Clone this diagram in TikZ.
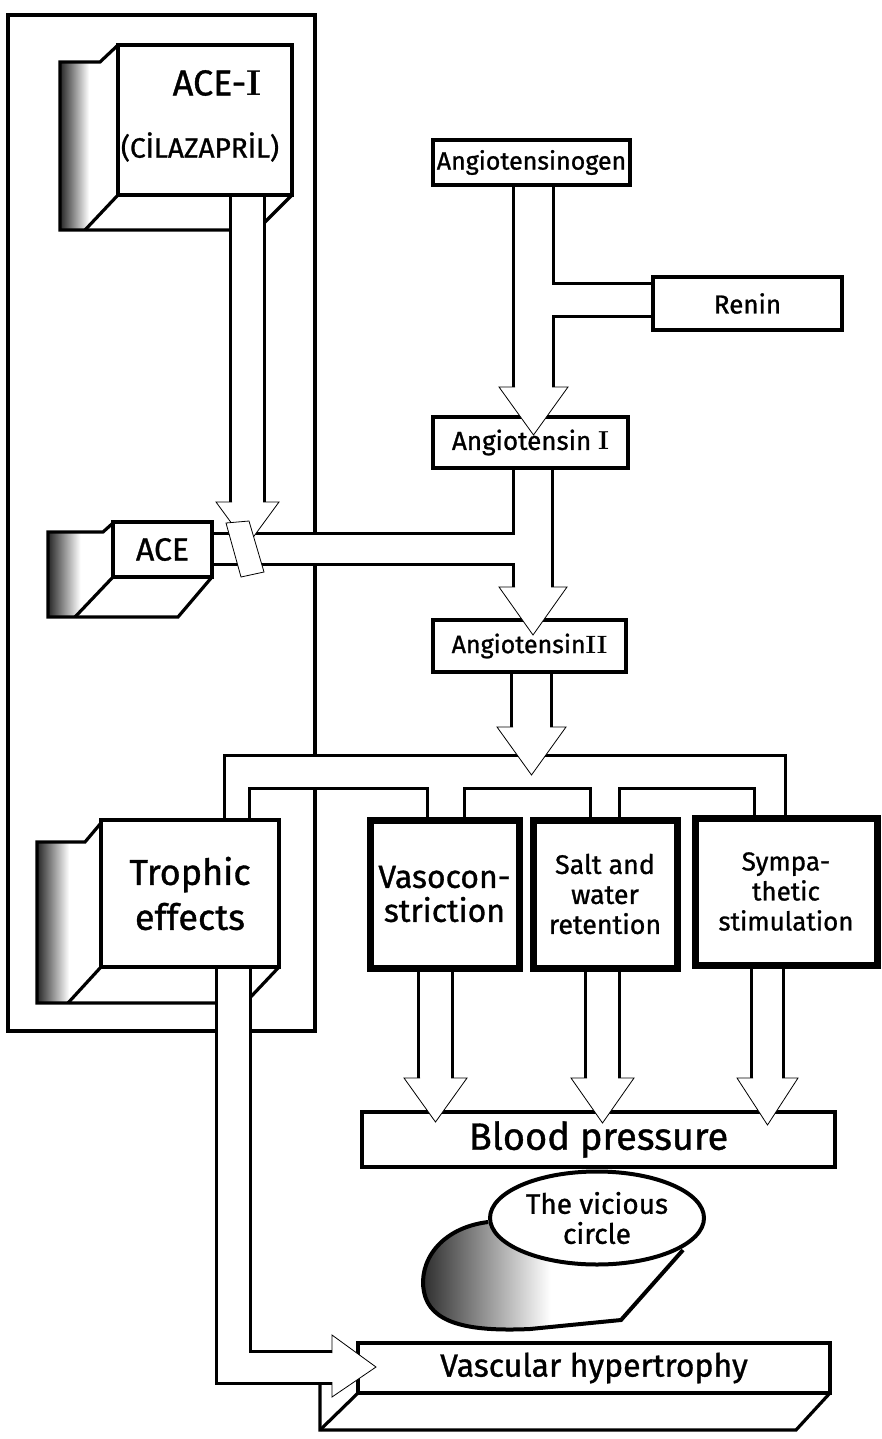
\documentclass[tikz,border=0pt]{standalone}
\usepackage{fontspec}
\setsansfont{Fira Sans}[FakeBold=1]
\usetikzlibrary{shapes.geometric,backgrounds}

\begin{document}
\begin{tikzpicture}[x=0.5pt,y=-0.5pt,line width=1.6pt,
  box/.style={draw,fill=white,inner sep=0pt,font=\sffamily,align=center},
  heavybox/.style={box,line width=3.5pt},
  shadeside/.style={left color=black!85,right color=white,middle color=white}]
  \useasboundingbox (0,0) rectangle (882,1439);

  % boxes
  \node[box,minimum width=87pt,minimum height=75pt] (acei) at (205,120) {};
  \node[font=\sffamily\fontsize{18}{20}\selectfont] (aceiname) at (217,83) {ACE-{\rmfamily\bfseries I}};
  \node[font=\sffamily\fontsize{14}{16}\selectfont] (aceidrug) at (200,147) {(CİLAZAPRİL)};
  \node[box,minimum width=49.5pt,minimum height=27.5pt,font=\sffamily\fontsize{16}{18}\selectfont] (ace) at (162.5,549.5) {ACE};
  \node[box,minimum width=98.5pt,minimum height=22.5pt,font=\sffamily\fontsize{12.5}{15}\selectfont] (ang0) at (531.5,162.5) {Angiotensinogen};
  \node[box,minimum width=94.5pt,minimum height=26.5pt,font=\sffamily\fontsize{13}{15}\selectfont] (renin) at (747.5,303.5) {Renin};
  \node[box,minimum width=97.5pt,minimum height=25.5pt,font=\sffamily\fontsize{13}{15}\selectfont] (ang1) at (530.5,442.5) {Angiotensin {\rmfamily\bfseries I}};
  \node[box,minimum width=96.5pt,minimum height=26pt,font=\sffamily\fontsize{12.5}{15}\selectfont] (ang2) at (529.5,646) {Angiotensin{\rmfamily\bfseries II}};
  \node[box,minimum width=89pt,minimum height=73.5pt,font=\sffamily\fontsize{18}{22.5}\selectfont] (troph) at (190,893.5) {Trophic\\effects};
  \node[heavybox,minimum width=74.5pt,minimum height=74pt,font=\sffamily\fontsize{16}{17}\selectfont] (vaso) at (444.5,894) {Vasocon-\\striction};
  \node[heavybox,minimum width=72pt,minimum height=74pt,font=\sffamily\fontsize{13.4}{15}\selectfont] (salt) at (605,894) {Salt and\\water\\retention};
  \node[heavybox,minimum width=91pt,minimum height=73.5pt,font=\sffamily\fontsize{13}{15}\selectfont] (symp) at (786,891.5) {Sympa-\\thetic\\stimulation};
  \node[box,minimum width=236.5pt,minimum height=27.5pt,font=\sffamily\fontsize{19}{21}\selectfont] (bp) at (598.5,1139.5) {Blood pressure};
  \node[box,minimum width=236pt,minimum height=25pt,font=\sffamily\fontsize{16}{18}\selectfont] (vasc) at (594,1368) {Vascular hypertrophy};

  \begin{pgfonlayer}{background}
  \begin{scope}[line width=1.6pt]
    % frame round the inhibitor side
    \draw (8,15) rectangle (315,1031);
    % 3-d sides
    \fill[shadeside] (60,62) -- (100,62) -- (117,46) -- (118,195) -- (85,230) -- (60,230) -- cycle;
    \draw (117,46) -- (100,62) -- (60,62) -- (60,230) -- (258,230);
    \draw (118,195) -- (85,230);
    \draw (292,195) -- (257,230);
    \fill[shadeside] (48,532) -- (103,532) -- (113,523) -- (113,577) -- (75,617) -- (48,617) -- cycle;
    \draw (113,523) -- (103,532) -- (48,532) -- (48,617) -- (178,617) -- (212,577);
    \draw (113,577) -- (75,617);
    \fill[shadeside] (37,842) -- (85,842) -- (101,823) -- (101,967) -- (68,1003) -- (37,1003) -- cycle;
    \draw (101,823) -- (85,842) -- (37,842) -- (37,1003) -- (245,1003);
    \draw (101,967) -- (68,1003);
    \draw (279,967) -- (245,1003);
    \draw (320,1382) -- (320,1430) -- (796,1430) -- (830,1393);
    \draw (358,1393) -- (320,1430);
    % hollow pipes
    \def\pipes{232/195/263/502, 515/185/552/387, 533/285/653/315, 515/468/551/587,
      212/535/533/563, 513/672/550/727, 226/757/784/787, 226/757/248/820,
      429/772/463/820, 592/772/618/820, 756/757/784/818, 420/968/451/1078,
      587/968/618/1078, 753/968/782/1078, 218/967/249/1382, 218/1353/332/1382}
    \foreach \xa/\ya/\xb/\yb in \pipes
      \draw[line width=3.2pt] (\xa,\ya) rectangle (\xb,\yb);
    \foreach \xa/\ya/\xb/\yb in \pipes
      \fill[white] (\xa,\ya) rectangle (\xb,\yb);
  \end{scope}
  \end{pgfonlayer}

  % arrow heads
  \foreach \xl/\xr/\ya/\yt in {232/263/502/545, 515/552/387/435, 515/551/587/635,
    513/550/727/775, 420/451/1078/1122, 587/618/1078/1123, 753/782/1078/1125}
    \filldraw[fill=white] (\xl,\ya) -- (\xl-16,\ya) -- ({(\xl+\xr)/2},\yt) -- (\xr+16,\ya) -- (\xr,\ya);
  \filldraw[fill=white] (332,1353) -- (332,1335) -- (376,1367) -- (332,1397) -- (332,1382);
  % blocker on the ACE channel
  \filldraw[fill=white] (226,523) -- (249,521) -- (264,572) -- (241,577) -- cycle;

  % the vicious circle
  \draw[shadeside,line width=2pt] (488,1222) .. controls (440,1228) and (418,1262) .. (424,1292)
    .. controls (430,1322) and (465,1332) .. (530,1329) -- (621,1320) -- (683,1250);
  \node[draw,ellipse,fill=white,line width=2pt,inner sep=0pt,minimum width=107pt,minimum height=46.5pt,
    font=\sffamily\fontsize{14}{15}\selectfont,align=center] (vicious) at (597,1218) {The vicious\\circle};
\end{tikzpicture}
\end{document}
